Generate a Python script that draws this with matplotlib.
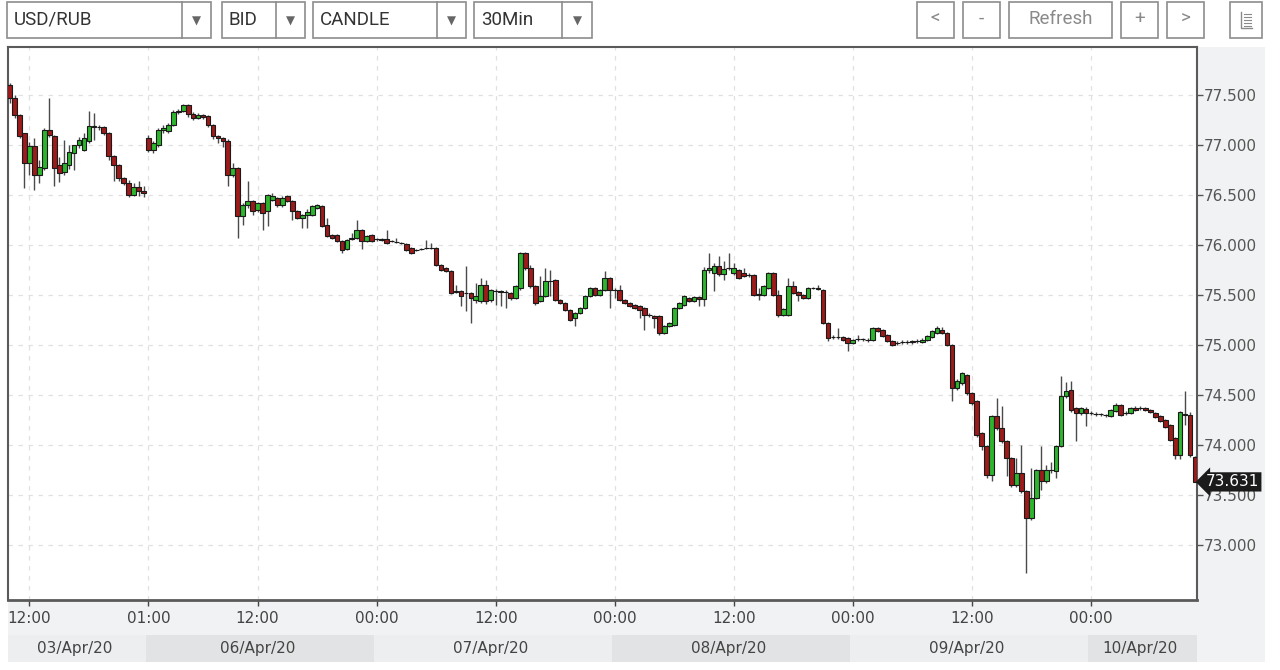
import matplotlib
matplotlib.use("Agg")
import matplotlib.pyplot as plt
from matplotlib.patches import Rectangle
from matplotlib.transforms import blended_transform_factory

# ---- data: 30-min USD/RUB bid candles, 03/Apr/20 10:00 .. 10/Apr/20 ----
opens = [
    77.60, 77.47, 77.30, 77.12, 76.82, 76.99, 76.70, 76.77, 77.15, 77.09,
    76.80, 76.73, 76.80, 76.92, 77.00, 76.95, 77.04, 77.19, 77.18, 77.18,
    77.12, 76.89, 76.80, 76.67, 76.62, 76.50, 76.58, 76.54, 77.07, 76.95,
    77.00, 77.15, 77.14, 77.20, 77.33, 77.34, 77.40, 77.31, 77.27, 77.30,
    77.29, 77.20, 77.09, 77.07, 77.04, 76.70, 76.77, 76.29, 76.40, 76.44,
    76.35, 76.42, 76.34, 76.45, 76.47, 76.40, 76.49, 76.44, 76.34, 76.27,
    76.30, 76.30, 76.37, 76.39, 76.20, 76.10, 76.10, 76.04, 75.96, 76.07,
    76.07, 76.15, 76.04, 76.10, 76.06, 76.06, 76.06, 76.04, 76.03, 76.02,
    76.01, 75.97, 75.95, 75.96, 75.97, 75.97, 75.97, 75.80, 75.77, 75.74,
    75.54, 75.54, 75.52, 75.52, 75.45, 75.44, 75.60, 75.45, 75.54, 75.54,
    75.53, 75.52, 75.47, 75.57, 75.92, 75.77, 75.59, 75.44, 75.49, 75.64,
    75.65, 75.45, 75.42, 75.35, 75.27, 75.32, 75.37, 75.49, 75.57, 75.50,
    75.55, 75.67, 75.55, 75.55, 75.45, 75.42, 75.40, 75.39, 75.37, 75.30,
    75.29, 75.29, 75.12, 75.19, 75.20, 75.37, 75.40, 75.47, 75.44, 75.48,
    75.46, 75.75, 75.72, 75.79, 75.71, 75.77, 75.72, 75.75, 75.72, 75.70,
    75.70, 75.50, 75.50, 75.57, 75.72, 75.50, 75.30, 75.30, 75.59, 75.53,
    75.50, 75.47, 75.57, 75.57, 75.55, 75.22, 75.08, 75.08, 75.08, 75.07,
    75.02, 75.06, 75.06, 75.05, 75.05, 75.17, 75.15, 75.10, 75.04, 75.02,
    75.03, 75.03, 75.03, 75.04, 75.03, 75.05, 75.08, 75.12, 75.15, 75.12,
    75.00, 74.57, 74.62, 74.70, 74.52, 74.44, 74.12, 73.99, 73.70, 74.29,
    74.17, 74.04, 73.87, 73.60, 73.72, 73.54, 73.27, 73.47, 73.75, 73.64,
    73.75, 73.74, 73.99, 74.49, 74.55, 74.37, 74.32, 74.36, 74.32, 74.31,
    74.31, 74.30, 74.29, 74.34, 74.40, 74.32, 74.32, 74.37, 74.37, 74.37,
    74.35, 74.32, 74.29, 74.25, 74.20, 74.07, 73.90, 74.31, 74.30, 73.88,
]
highs = [
    77.62, 77.50, 77.31, 77.12, 77.03, 77.07, 76.85, 77.17, 77.47, 77.10,
    76.88, 77.05, 77.00, 77.00, 77.08, 77.12, 77.34, 77.32, 77.20, 77.19,
    77.13, 76.90, 76.81, 76.68, 76.65, 76.62, 76.64, 76.59, 77.10, 77.04,
    77.17, 77.20, 77.22, 77.35, 77.36, 77.41, 77.41, 77.33, 77.32, 77.31,
    77.30, 77.21, 77.10, 77.08, 77.06, 76.82, 76.78, 76.42, 76.64, 76.45,
    76.43, 76.43, 76.51, 76.52, 76.48, 76.49, 76.50, 76.45, 76.35, 76.31,
    76.36, 76.40, 76.41, 76.40, 76.27, 76.11, 76.11, 76.05, 76.06, 76.12,
    76.25, 76.16, 76.10, 76.11, 76.07, 76.07, 76.15, 76.05, 76.07, 76.03,
    76.02, 75.98, 75.96, 75.97, 76.05, 76.02, 75.98, 75.81, 75.78, 75.75,
    75.60, 75.55, 75.79, 75.53, 75.62, 75.67, 75.65, 75.56, 75.56, 75.55,
    75.55, 75.53, 75.60, 75.93, 75.93, 75.80, 75.60, 75.69, 75.77, 75.75,
    75.66, 75.46, 75.43, 75.36, 75.33, 75.38, 75.50, 75.58, 75.58, 75.56,
    75.74, 75.68, 75.57, 75.60, 75.46, 75.43, 75.41, 75.40, 75.38, 75.32,
    75.30, 75.30, 75.20, 75.23, 75.38, 75.43, 75.50, 75.48, 75.49, 75.49,
    75.78, 75.92, 75.82, 75.89, 75.84, 75.92, 75.82, 75.76, 75.77, 75.72,
    75.71, 75.57, 75.60, 75.73, 75.73, 75.55, 75.37, 75.67, 75.64, 75.54,
    75.51, 75.58, 75.58, 75.60, 75.56, 75.23, 75.10, 75.17, 75.09, 75.08,
    75.06, 75.10, 75.07, 75.07, 75.18, 75.18, 75.16, 75.11, 75.05, 75.04,
    75.05, 75.05, 75.05, 75.06, 75.07, 75.10, 75.15, 75.19, 75.18, 75.13,
    75.01, 74.66, 74.73, 74.71, 74.53, 74.45, 74.13, 74.00, 74.30, 74.47,
    74.39, 74.05, 73.88, 73.87, 74.00, 73.55, 73.77, 73.76, 73.99, 73.80,
    73.83, 74.00, 74.69, 74.63, 74.64, 74.38, 74.38, 74.38, 74.34, 74.33,
    74.32, 74.31, 74.36, 74.42, 74.41, 74.34, 74.38, 74.39, 74.39, 74.38,
    74.36, 74.33, 74.30, 74.26, 74.21, 74.08, 74.34, 74.54, 74.33, 73.89,
]
lows = [
    77.42, 77.27, 77.07, 76.57, 76.70, 76.55, 76.62, 76.75, 77.08, 76.59,
    76.63, 76.70, 76.76, 76.75, 76.97, 76.94, 77.02, 77.05, 77.15, 77.10,
    76.85, 76.64, 76.64, 76.60, 76.48, 76.49, 76.49, 76.48, 76.93, 76.92,
    76.98, 77.12, 77.12, 77.19, 77.31, 77.33, 77.28, 77.25, 77.26, 77.26,
    77.18, 77.06, 77.02, 76.98, 76.59, 76.68, 76.07, 76.20, 76.37, 76.30,
    76.33, 76.15, 76.19, 76.44, 76.38, 76.38, 76.43, 76.25, 76.26, 76.17,
    76.17, 76.29, 76.36, 76.18, 76.08, 76.06, 76.03, 75.92, 75.95, 76.05,
    76.06, 75.96, 76.03, 76.03, 76.04, 76.04, 76.01, 76.03, 76.02, 76.01,
    75.94, 75.91, 75.94, 75.95, 75.96, 75.96, 75.79, 75.74, 75.73, 75.51,
    75.52, 75.39, 75.34, 75.22, 75.42, 75.42, 75.41, 75.43, 75.40, 75.39,
    75.37, 75.45, 75.46, 75.55, 75.75, 75.57, 75.40, 75.43, 75.48, 75.49,
    75.44, 75.41, 75.34, 75.24, 75.19, 75.31, 75.36, 75.48, 75.49, 75.49,
    75.54, 75.37, 75.47, 75.44, 75.41, 75.38, 75.36, 75.27, 75.15, 75.28,
    75.17, 75.10, 75.11, 75.18, 75.19, 75.36, 75.39, 75.43, 75.43, 75.39,
    75.39, 75.72, 75.54, 75.69, 75.65, 75.75, 75.70, 75.66, 75.68, 75.68,
    75.49, 75.45, 75.49, 75.56, 75.49, 75.28, 75.29, 75.29, 75.51, 75.44,
    75.46, 75.46, 75.56, 75.55, 75.21, 75.04, 75.06, 75.06, 75.04, 74.94,
    75.01, 75.04, 75.04, 75.03, 75.04, 75.13, 75.08, 75.03, 74.99, 75.00,
    75.01, 75.01, 75.01, 75.02, 75.02, 75.04, 75.07, 75.11, 75.11, 74.99,
    74.44, 74.55, 74.60, 74.50, 74.40, 74.08, 73.95, 73.67, 73.64, 74.15,
    74.02, 73.69, 73.58, 73.58, 73.52, 72.72, 73.25, 73.46, 73.55, 73.62,
    73.72, 73.67, 73.98, 74.47, 74.33, 74.04, 74.30, 74.19, 74.30, 74.29,
    74.29, 74.28, 74.28, 74.33, 74.29, 74.30, 74.31, 74.34, 74.35, 74.34,
    74.32, 74.27, 74.23, 74.17, 74.04, 73.86, 73.86, 74.20, 73.88, 73.63,
]
closes = [
    77.47, 77.30, 77.09, 76.82, 76.99, 76.70, 76.78, 77.15, 77.10, 76.77,
    76.72, 76.82, 76.93, 77.00, 77.05, 77.07, 77.19, 77.18, 77.18, 77.12,
    76.89, 76.80, 76.67, 76.62, 76.50, 76.58, 76.54, 76.52, 76.95, 77.02,
    77.15, 77.17, 77.20, 77.33, 77.34, 77.40, 77.31, 77.27, 77.30, 77.28,
    77.20, 77.09, 77.07, 77.04, 76.70, 76.77, 76.29, 76.40, 76.44, 76.34,
    76.42, 76.32, 76.50, 76.49, 76.40, 76.47, 76.44, 76.34, 76.27, 76.30,
    76.33, 76.39, 76.40, 76.19, 76.09, 76.07, 76.04, 75.95, 76.05, 76.06,
    76.15, 76.04, 76.09, 76.04, 76.06, 76.05, 76.02, 76.04, 76.03, 76.02,
    75.95, 75.92, 75.95, 75.96, 75.97, 75.97, 75.80, 75.75, 75.74, 75.52,
    75.53, 75.49, 75.52, 75.47, 75.49, 75.60, 75.44, 75.55, 75.54, 75.53,
    75.53, 75.47, 75.59, 75.92, 75.77, 75.59, 75.42, 75.49, 75.64, 75.64,
    75.45, 75.42, 75.35, 75.25, 75.32, 75.37, 75.49, 75.57, 75.50, 75.55,
    75.67, 75.55, 75.55, 75.45, 75.42, 75.39, 75.37, 75.35, 75.30, 75.30,
    75.27, 75.12, 75.19, 75.22, 75.37, 75.42, 75.49, 75.44, 75.48, 75.46,
    75.75, 75.77, 75.79, 75.71, 75.76, 75.77, 75.77, 75.67, 75.69, 75.70,
    75.50, 75.51, 75.59, 75.72, 75.50, 75.30, 75.36, 75.59, 75.52, 75.50,
    75.47, 75.57, 75.57, 75.56, 75.22, 75.07, 75.08, 75.08, 75.05, 75.02,
    75.05, 75.06, 75.06, 75.05, 75.17, 75.14, 75.09, 75.04, 75.00, 75.02,
    75.03, 75.03, 75.04, 75.04, 75.05, 75.09, 75.14, 75.17, 75.12, 75.00,
    74.57, 74.64, 74.72, 74.52, 74.42, 74.10, 73.99, 73.70, 74.29, 74.17,
    74.04, 73.87, 73.60, 73.72, 73.54, 73.27, 73.47, 73.75, 73.64, 73.75,
    73.75, 73.99, 74.49, 74.54, 74.35, 74.32, 74.37, 74.32, 74.32, 74.31,
    74.31, 74.30, 74.35, 74.40, 74.30, 74.32, 74.37, 74.35, 74.37, 74.35,
    74.33, 74.28, 74.24, 74.18, 74.05, 73.90, 74.33, 74.30, 73.90, 73.631,
]

time_tick_idx = [4, 28, 50, 74, 98, 122, 146, 170, 194, 218]
time_tick_labels = ["12:00", "01:00", "12:00", "00:00", "12:00",
                    "00:00", "12:00", "00:00", "12:00", "00:00"]
day_edges = [-0.32, 27.5, 73.5, 121.5, 169.5, 217.5, 239.4]
day_labels = ["03/Apr/20", "06/Apr/20", "07/Apr/20", "08/Apr/20",
              "09/Apr/20", "10/Apr/20"]
price_ticks = [73.0, 73.5, 74.0, 74.5, 75.0, 75.5, 76.0, 76.5, 77.0, 77.5]

last_bid = 73.631
net_chg = "-0.763"
pct_chg = "-1.03%"

UP = "#2db52d"
DOWN = "#9c1b1b"
GRID = "#e0e0e0"

fig = plt.figure(figsize=(12.8, 6.7), dpi=100)

# page layer in pixel coordinates (toolbar, grey panels)
bg = fig.add_axes([0, 0, 1, 1])
bg.set_xlim(0, 1280)
bg.set_ylim(670, 0)
bg.axis("off")
bg.set_zorder(0)

bg.add_patch(Rectangle((8, 600), 1257, 62, fc="#f1f2f3", ec="none"))
bg.add_patch(Rectangle((1197, 47), 68, 615, fc="#f1f2f3", ec="none"))

UI_FONT = ["Roboto", "DejaVu Sans"]
dropdowns = [("USD/RUB", 7, 211, 182), ("BID", 222, 305, 276),
             ("CANDLE", 313, 466, 437), ("30Min", 474, 592, 562)]
for label, x0, x1, xd in dropdowns:
    bg.add_patch(Rectangle((x0, 2), x1 - x0, 36, fc="white", ec="#8c8c8c", lw=1.2))
    bg.plot([xd, xd], [2, 38], color="#8c8c8c", lw=1.2)
    bg.text(x0 + 7, 20, label, fontsize=13.5, family=UI_FONT, color="#333333",
            va="center", ha="left")
    bg.text((xd + x1) / 2, 21, "▼", fontsize=8.5, family=["DejaVu Sans"],
            color="#666666", va="center", ha="center")

buttons = [("<", 917, 954), ("-", 963, 1000), ("Refresh", 1009, 1112),
           ("+", 1121, 1158), (">", 1167, 1204), ("", 1230, 1262)]
for label, x0, x1 in buttons:
    bg.add_patch(Rectangle((x0, 2), x1 - x0, 36, fc="white", ec="#8c8c8c", lw=1.2))
    if label:
        bg.text((x0 + x1) / 2, 19, label, fontsize=13.5, family=UI_FONT,
                color="#8a8a8a", va="center", ha="center")
# little table icon
bg.plot([1241, 1241, 1252], [12, 28, 28], color="#8a8a8a", lw=1)
for yy in (14, 17, 20, 23, 26):
    bg.plot([1244, 1251], [yy, yy], color="#8a8a8a", lw=0.8)

# header text inside the chart
hdr = dict(fontsize=9.5, family=["DejaVu Sans"], va="center", ha="left")
bg.text(25, 66, "Bid 73.631 Net Chg", color="#555555", zorder=5, **hdr)
bg.text(197, 66, net_chg, color="#d42a2a", zorder=5, **hdr)
bg.text(251, 66, "%Chg", color="#555555", zorder=5, **hdr)
bg.text(306, 66, pct_chg, color="#d42a2a", zorder=5, **hdr)

# main chart
ax = fig.add_axes([8 / 1280, 1 - 600 / 670, 1189 / 1280, 553 / 670])
ax.set_zorder(1)
ax.set_facecolor("white")

idx = list(range(len(closes)))
ax.vlines(idx, lows, highs, color="#4a4a4a", lw=1.0, zorder=2)
colors = [UP if c >= o else DOWN for o, c in zip(opens, closes)]
heights = [c - o for o, c in zip(opens, closes)]
ax.bar(idx, heights, bottom=opens, width=0.95, color=colors,
       edgecolor="#1a1a1a", linewidth=0.8, zorder=3)

ax.set_xlim(day_edges[0], day_edges[-1])
ax.set_ylim(72.45, 77.98)

ax.set_xticks(time_tick_idx)
ax.set_xticklabels(time_tick_labels)
ax.set_yticks(price_ticks)
ax.set_yticklabels([f"{p:.3f}" for p in price_ticks])
ax.yaxis.tick_right()
ax.tick_params(axis="x", length=4, width=1, color="#444444", pad=4,
               labelsize=11, labelcolor="#444444")
ax.tick_params(axis="y", length=4, width=1, color="#555555", pad=1,
               labelsize=11, labelcolor="#555555")
ax.grid(True, linestyle=(0, (3.5, 4.5)), color=GRID, lw=0.9, zorder=0)
ax.set_axisbelow(True)

for side, lw in (("top", 1.5), ("right", 1.5), ("bottom", 2.0), ("left", 1.5)):
    ax.spines[side].set_color("#5a5a5a")
    ax.spines[side].set_linewidth(lw)

# date band under the time axis
xband = blended_transform_factory(ax.transData, ax.transAxes)
for k, lab in enumerate(day_labels):
    a, b = day_edges[k], day_edges[k + 1]
    fc = "#eceeef" if k % 2 == 0 else "#e2e3e4"
    ax.add_patch(Rectangle((a, -0.1121), b - a, 0.0488, transform=xband,
                           fc=fc, ec="none", clip_on=False, zorder=0))
    ax.text((a + b) / 2 - 0.5, -0.0877, lab, transform=xband, ha="center",
            va="center", fontsize=11, color="#444444", clip_on=False)

# last price tag on the right axis
ytag = blended_transform_factory(ax.transAxes, ax.transData)
ax.text(1.0075, last_bid, f"{last_bid:.3f}", transform=ytag, ha="left",
        va="center", fontsize=11, color="white", clip_on=False, zorder=10,
        bbox=dict(boxstyle="larrow,pad=0.14", fc="#1b1b1b", ec="none"))

fig.savefig("out.png", dpi=100)
